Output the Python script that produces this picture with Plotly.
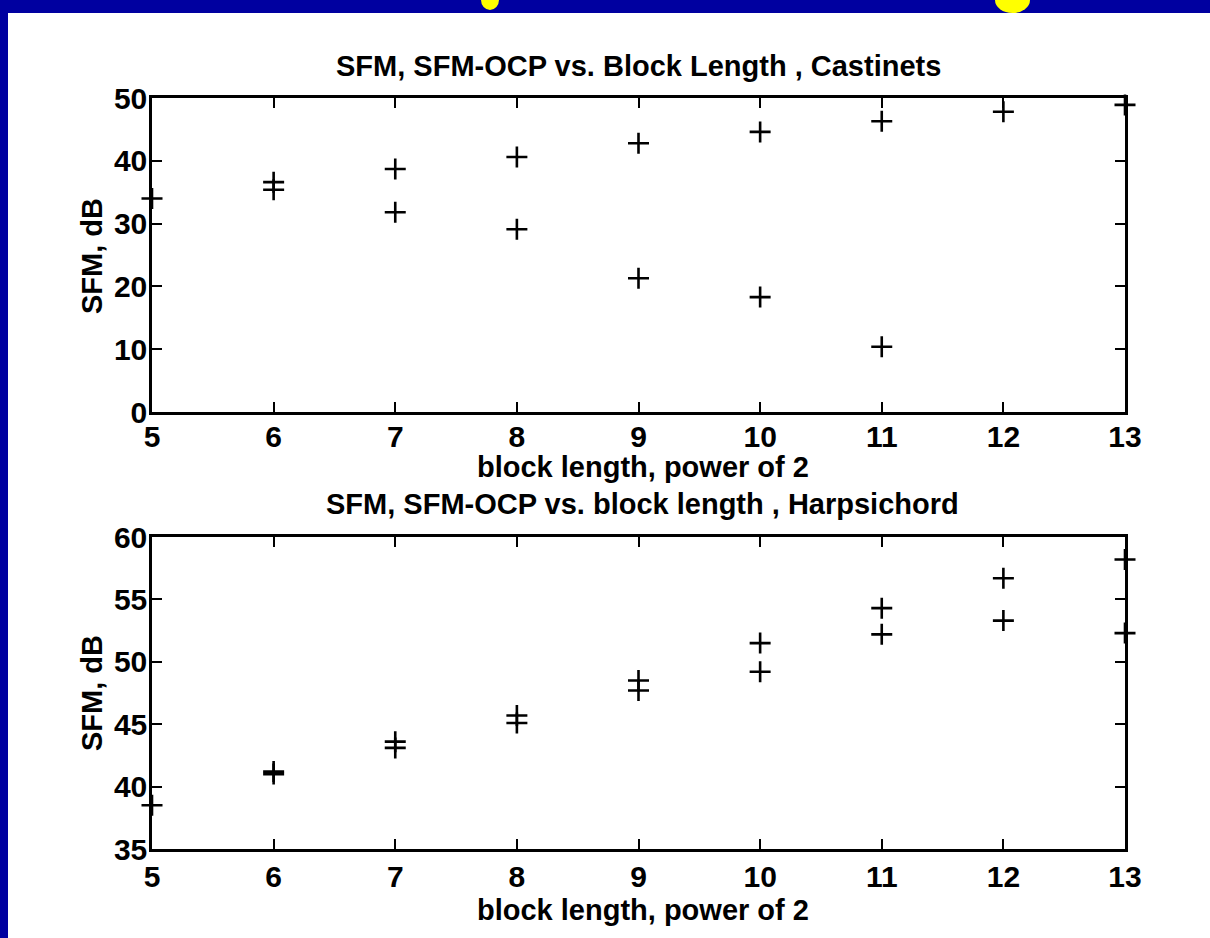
import plotly.graph_objects as go

# ---------------- data ----------------
block_power_ticks = [5, 6, 7, 8, 9, 10, 11, 12, 13]

# Castinets
cast_sfm_x = [6, 7, 8, 9, 10, 11, 12, 13]
cast_sfm_y = [36.6, 38.7, 40.6, 42.8, 44.6, 46.3, 47.8, 48.9]
cast_ocp_x = [5, 6, 7, 8, 9, 10, 11]
cast_ocp_y = [34.0, 35.4, 31.8, 29.1, 21.3, 18.3, 10.4]

# Harpsichord
harp_sfm_x = [6, 7, 8, 9, 10, 11, 12, 13]
harp_sfm_y = [41.2, 43.6, 45.7, 48.5, 51.5, 54.3, 56.7, 58.2]
harp_ocp_x = [5, 6, 7, 8, 9, 10, 11, 12, 13]
harp_ocp_y = [38.5, 41.0, 43.1, 45.1, 47.7, 49.2, 52.2, 53.3, 52.3]

top_yticks = [0, 10, 20, 30, 40, 50]
bot_yticks = [35, 40, 45, 50, 55, 60]

title_top = "SFM, SFM-OCP vs. Block Length , Castinets"
title_bot = "SFM, SFM-OCP vs. block length , Harpsichord"
xlabel = "block length, power of 2"
ylabel = "SFM, dB"

# ---------------- layout geometry ----------------
W, H = 1210, 938
L, R, T, B = 152, 85, 98, 89
PW = W - L - R
PH = H - T - B


def px(xp):
    return (xp - L) / PW


def py(yp):
    return (H - B - yp) / PH


FONT = dict(family="Liberation Sans, Arial, sans-serif", size=29, color="black", weight="bold")
TICKFONT = dict(family="Liberation Sans, Arial, sans-serif", size=30, color="black", weight="bold")
MARK = dict(symbol="cross-thin", size=15, line=dict(width=2.6, color="black"), color="black")

fig = go.Figure()
for xs, ys, xa, ya in [
    (cast_sfm_x, cast_sfm_y, "x", "y"),
    (cast_ocp_x, cast_ocp_y, "x", "y"),
    (harp_sfm_x, harp_sfm_y, "x2", "y2"),
    (harp_ocp_x, harp_ocp_y, "x2", "y2"),
]:
    fig.add_trace(go.Scatter(x=xs, y=ys, mode="markers", marker=MARK, xaxis=xa, yaxis=ya,
                             cliponaxis=False, showlegend=False, hoverinfo="x+y"))

axis_common = dict(
    showgrid=False, zeroline=False, showline=True, linecolor="black", linewidth=2.5,
    mirror="ticks", ticks="inside", ticklen=10, tickwidth=2, tickcolor="black",
    tickfont=TICKFONT,
)

top_dom = [py(412), 1.0]
bot_dom = [0.0, py(537)]

fig.update_layout(
    width=W, height=H,
    margin=dict(l=L, r=R, t=T, b=B, pad=0),
    paper_bgcolor="white", plot_bgcolor="white",
    xaxis=dict(domain=[0, 1], range=[5, 13], tickvals=block_power_ticks, anchor="y",
               ticklabelstandoff=-4, **axis_common),
    yaxis=dict(domain=top_dom, range=[0, 50], tickvals=top_yticks, anchor="x",
               ticklabelstandoff=-4, **axis_common),
    xaxis2=dict(domain=[0, 1], range=[5, 13], tickvals=block_power_ticks, anchor="y2",
                ticklabelstandoff=-1, **axis_common),
    yaxis2=dict(domain=bot_dom, range=[35, 60], tickvals=bot_yticks, anchor="x2",
                ticklabelstandoff=-4, **axis_common),
)

ann = []
ann.append(dict(text=title_top, x=px(638), y=py(66)))
ann.append(dict(text=xlabel, x=px(643), y=py(467)))
ann.append(dict(text=title_bot, x=px(642), y=py(504)))
ann.append(dict(text=xlabel, x=px(643), y=py(910)))
ann.append(dict(text=ylabel, x=px(92), y=py(256), textangle=-90))
ann.append(dict(text=ylabel, x=px(92), y=py(693), textangle=-90))
for a in ann:
    a.update(xref="paper", yref="paper", xanchor="center", yanchor="middle",
             showarrow=False, font=FONT)
fig.update_layout(annotations=ann)

# slide frame: dark blue strips at top and left, and the tails of a cut-off yellow heading
BLUE = "#0000A0"
YEL = "#FFFF00"
shapes = [
    dict(type="rect", xref="paper", yref="paper", x0=px(0), x1=px(W), y0=py(13), y1=py(-5),
         fillcolor=BLUE, line=dict(width=0), layer="above"),
    dict(type="rect", xref="paper", yref="paper", x0=px(-5), x1=px(8), y0=py(H + 5), y1=py(0),
         fillcolor=BLUE, line=dict(width=0), layer="above"),
    dict(type="circle", xref="paper", yref="paper", x0=px(481), x1=px(499), y0=py(10), y1=py(-10),
         fillcolor=YEL, line=dict(width=0), layer="above"),
    dict(type="circle", xref="paper", yref="paper", x0=px(995), x1=px(1030), y0=py(13), y1=py(-13),
         fillcolor=YEL, line=dict(width=0), layer="above"),
]
fig.update_layout(shapes=shapes)

fig.write_html("out.html", config={"displayModeBar": False},
               post_script="document.body.style.margin='0';document.body.style.overflow='hidden';")
